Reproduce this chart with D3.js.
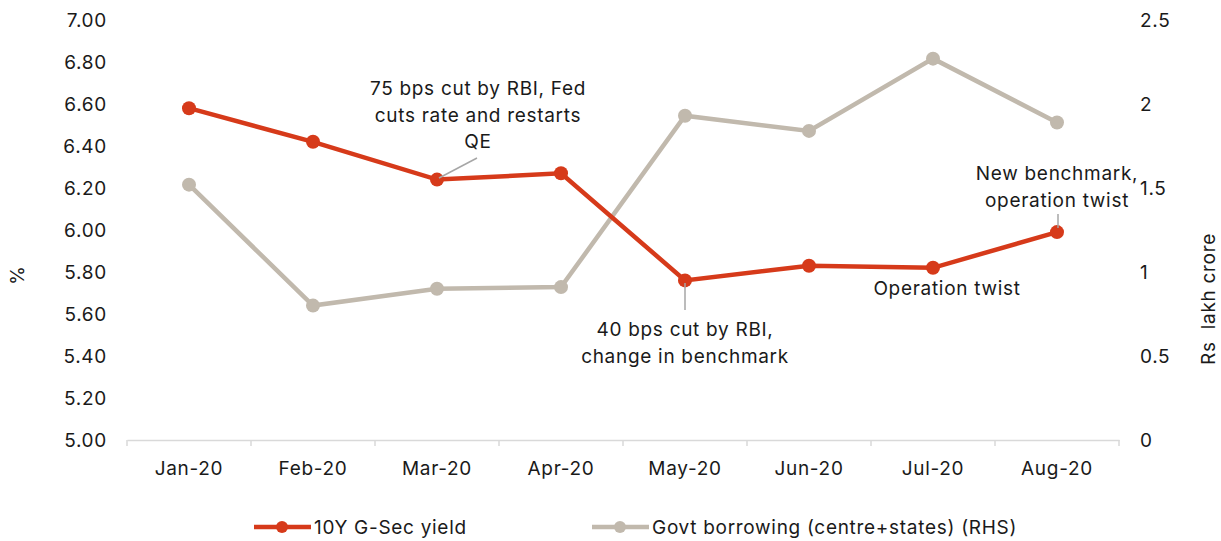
<!DOCTYPE html>
<html>
<head>
<meta charset="utf-8">
<script src="https://cdn.jsdelivr.net/npm/d3@7"></script>
<style>
  body { margin: 0; background: #fff; }
  svg text { font-family: Inter, "Noto Sans", sans-serif; fill: #1a1a1a; letter-spacing: 0.7px; }
</style>
</head>
<body>
<svg id="chart"></svg>
<script>
var months = ["Jan-20", "Feb-20", "Mar-20", "Apr-20", "May-20", "Jun-20", "Jul-20", "Aug-20"];
var gsecYield = [6.58, 6.42, 6.24, 6.27, 5.76, 5.83, 5.82, 5.99];
var govtBorrowing = [1.52, 0.80, 0.90, 0.91, 1.93, 1.84, 2.27, 1.89];
var leftTicks = [5.0, 5.2, 5.4, 5.6, 5.8, 6.0, 6.2, 6.4, 6.6, 6.8, 7.0];
var rightTicks = [0, 0.5, 1, 1.5, 2, 2.5];

var width = 1221, height = 541;
var red = "#d63a1a", grey = "#c1b9ad";
var fs = "19px";

var svg = d3.select("#chart")
	.attr("width", width)
	.attr("height", height);

var x = d3.scaleBand()
	.domain(months)
	.range([127, 1119]);

var yL = d3.scaleLinear().domain([5, 7]).range([440, 20]);
var yR = d3.scaleLinear().domain([0, 2.5]).range([440, 20]);

// X axis
var xAxis = svg.append("g")
	.attr("transform", "translate(0,440)")
	.call(d3.axisBottom(x).tickSize(0).tickPadding(22));
xAxis.select(".domain").attr("stroke", "#d9d9d9").attr("stroke-width", 1.5);
xAxis.selectAll("text").style("font-size", fs);
// category boundary ticks
svg.append("g").selectAll("line")
	.data(d3.range(months.length + 1))
	.enter()
	.append("line")
	.attr("x1", function(i) { return 127 + i * x.step(); })
	.attr("x2", function(i) { return 127 + i * x.step(); })
	.attr("y1", 440).attr("y2", 446)
	.attr("stroke", "#d9d9d9").attr("stroke-width", 1.5);

// Left axis
var leftAxis = svg.append("g")
	.attr("transform", "translate(107,0)")
	.call(d3.axisLeft(yL).tickValues(leftTicks).tickSize(0).tickPadding(0).tickFormat(d3.format(".2f")));
leftAxis.select(".domain").remove();
leftAxis.selectAll("text").style("font-size", fs);

// Right axis
var rightAxis = svg.append("g")
	.attr("transform", "translate(1140,0)")
	.call(d3.axisRight(yR).tickValues(rightTicks).tickSize(0).tickPadding(0).tickFormat(function(d) { return d; }));
rightAxis.select(".domain").remove();
rightAxis.selectAll("text").style("font-size", fs);

svg.append("text")
	.attr("transform", "translate(24,275)rotate(-90)")
	.style("text-anchor", "middle")
	.style("font-size", fs)
	.text("%");

svg.append("text")
	.attr("transform", "translate(1215,299)rotate(-90)")
	.style("text-anchor", "middle")
	.style("font-size", fs)
	.attr("xml:space", "preserve")
	.text("Rs  lakh crore");

function cx(d, i) { return x(months[i]) + x.bandwidth() / 2; }

// Govt borrowing line
svg.append("path")
	.datum(govtBorrowing)
	.attr("fill", "none")
	.attr("stroke", grey)
	.attr("stroke-width", 4.5)
	.attr("d", d3.line().x(cx).y(function(d) { return yR(d); }));
svg.append("g").selectAll("circle")
	.data(govtBorrowing)
	.enter()
	.append("circle")
	.attr("cx", cx)
	.attr("cy", function(d) { return yR(d); })
	.attr("r", 7)
	.attr("fill", grey);

// 10Y line
svg.append("path")
	.datum(gsecYield)
	.attr("fill", "none")
	.attr("stroke", red)
	.attr("stroke-width", 4.5)
	.attr("d", d3.line().x(cx).y(function(d) { return yL(d); }));
svg.append("g").selectAll("circle")
	.data(gsecYield)
	.enter()
	.append("circle")
	.attr("cx", cx)
	.attr("cy", function(d) { return yL(d); })
	.attr("r", 7)
	.attr("fill", red);

// Annotations
var notes = [
	{ lines: ["75 bps cut by RBI, Fed", "cuts rate and restarts", "QE"], tx: 478, ty: 95, lead: [[477, 158], [439, 178]] },
	{ lines: ["40 bps cut by RBI,", "change in benchmark"], tx: 685, ty: 336, lead: [[685, 283], [685, 310]] },
	{ lines: ["Operation twist"], tx: 947, ty: 295, lead: null },
	{ lines: ["New benchmark,", "operation twist"], tx: 1057, ty: 180, lead: [[1058, 214], [1058, 228]] }
];

notes.forEach(function(n) {
	if (n.lead) {
		svg.append("line")
			.attr("x1", n.lead[0][0]).attr("y1", n.lead[0][1])
			.attr("x2", n.lead[1][0]).attr("y2", n.lead[1][1])
			.attr("stroke", "#a6a6a6").attr("stroke-width", 1.5);
	}
	var t = svg.append("text")
		.attr("text-anchor", "middle")
		.style("font-size", fs);
	n.lines.forEach(function(l, k) {
		t.append("tspan").attr("x", n.tx).attr("y", n.ty + k * 26.5).text(l);
	});
});

// Legend
var legend = [
	{ name: "10Y G-Sec yield", color: red, x0: 254 },
	{ name: "Govt borrowing (centre+states) (RHS)", color: grey, x0: 592 }
];
legend.forEach(function(l) {
	svg.append("line")
		.attr("x1", l.x0).attr("x2", l.x0 + 57)
		.attr("y1", 527).attr("y2", 527)
		.attr("stroke", l.color).attr("stroke-width", 4.5);
	svg.append("circle")
		.attr("cx", l.x0 + 28).attr("cy", 527).attr("r", 6)
		.attr("fill", l.color);
	svg.append("text")
		.attr("x", l.x0 + 60).attr("y", 534)
		.style("font-size", fs)
		.text(l.name);
});
</script>
</body>
</html>
